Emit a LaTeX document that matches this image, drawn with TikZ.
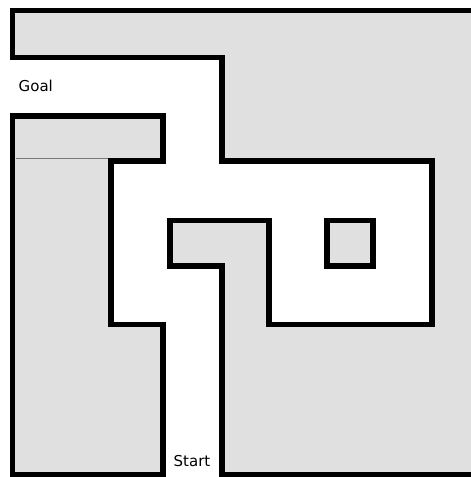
\documentclass[tikz,border=0pt]{standalone}
\usepackage{fontspec}
\setsansfont{DejaVu Sans}
\usetikzlibrary{positioning}
\definecolor{floor}{HTML}{E0E0E0}
\definecolor{seam}{HTML}{7A7A7A}

\begin{document}
\begin{tikzpicture}[x=1pt, y=-1pt,
    wall/.style={draw=black, line width=5.5pt, fill=floor, line join=miter},
    seamline/.style={draw=seam, line width=0.7pt},
    tag/.style={font=\sffamily\fontsize{15}{18}\selectfont, inner sep=0pt, anchor=base west},
]
\useasboundingbox (0,0) rectangle (471,477);
% big block with the loop
\draw[wall] (12.5,10.5) -- (480,10.5) -- (480,474.5) -- (222,474.5) -- (222,266) -- (170,266) -- (170,220.5) -- (269,220.5) -- (269,324.5) -- (432,324.5) -- (432,161) -- (222,161) -- (222,57.5) -- (12.5,57.5) -- cycle;
% left block
\draw[wall] (12.5,116) -- (163,116) -- (163,161) -- (111,161) -- (111,324.5) -- (163,324.5) -- (163,474.5) -- (12.5,474.5) -- cycle;
\draw[seamline] (15.5,158) -- (108,158);
% pillar
\draw[wall] (327,220.5) rectangle (373,266);

\node[tag] (goal) at (18.5,91) {Goal};
\node[tag] (start) at (173.5,466) {Start};
\end{tikzpicture}
\end{document}
